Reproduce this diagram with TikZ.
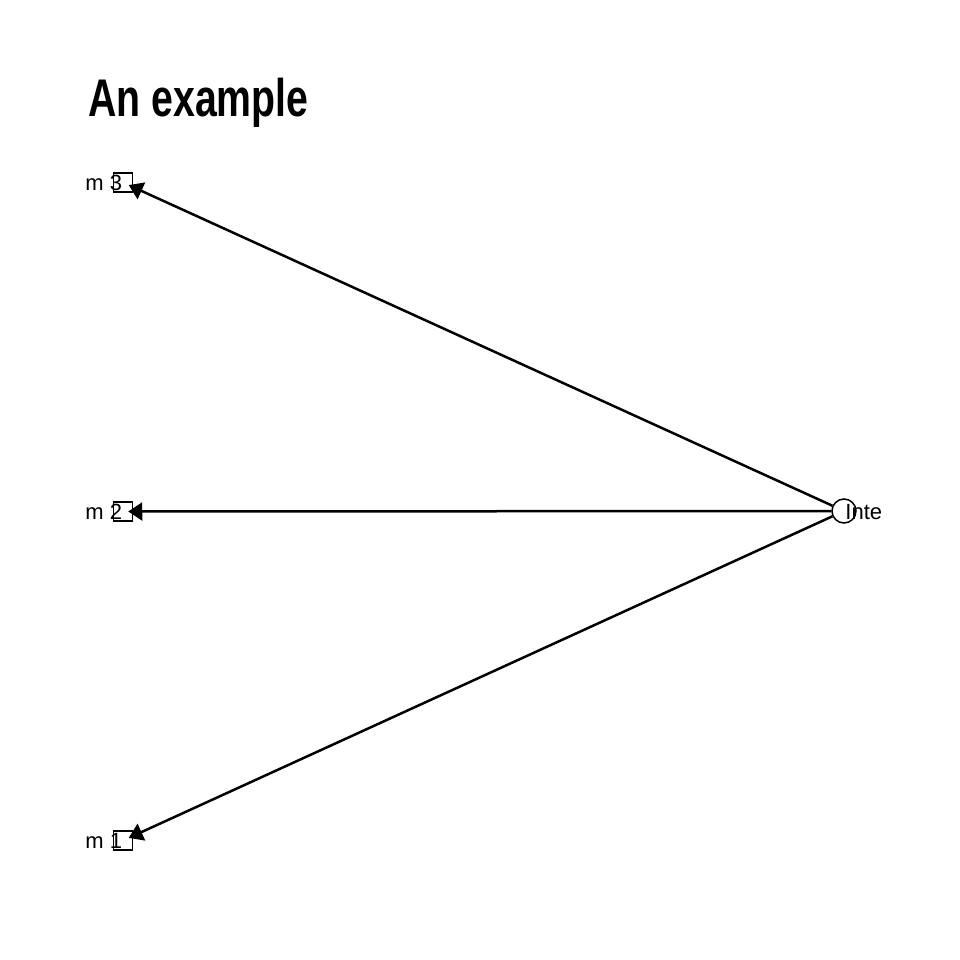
\documentclass[tikz,border=0pt]{standalone}
\usepackage{fontspec}
\setmainfont{Liberation Sans}
\newfontfamily\titlefont[FakeStretch=0.74]{Liberation Sans}
\usepackage{tikz}
\usetikzlibrary{arrows.meta, positioning}

\tikzset{
    manifest/.style={draw, line width=0.75pt, minimum size=9.5pt, inner sep=0pt},
    latent/.style={draw, circle, line width=0.75pt, minimum size=12pt, inner sep=0pt},
    itemlabel/.style={font=\fontsize{11}{12}\selectfont, inner sep=0pt}
}

\begin{document}
\begin{tikzpicture}[x=0.5pt, y=-0.5pt, >={Triangle[length=7pt, width=9pt]}]
                        \useasboundingbox (0, 0) rectangle (960, 960);

                        \node[anchor=base west, inner sep=0pt, font=\titlefont\bfseries\fontsize{26.5}{30}\selectfont] (title) at (88, 116) {An example};

                        \node[manifest] (m3) at (123, 182.5) {};
                        \node[manifest] (m2) at (123, 511.5) {};
                        \node[manifest] (m1) at (123, 840.5) {};
                        \node[latent] (inte) at (844, 511) {};

                        \node[itemlabel, anchor=east] (l3) at (122.5, 183) {m 3};
                        \node[itemlabel, anchor=east] (l2) at (122.5, 512) {m 2};
                        \node[itemlabel, anchor=east] (l1) at (122.5, 841) {m 1};
                        \node[itemlabel, anchor=west] (li) at (845, 512) {Inte};

                        \draw[line width=1.25pt, shorten >=-2.5pt]
                        (inte) edge[->] (m3)
                        (inte) edge[->] (m2)
                        (inte) edge[->] (m1);
                    \end{tikzpicture}
\end{document}
